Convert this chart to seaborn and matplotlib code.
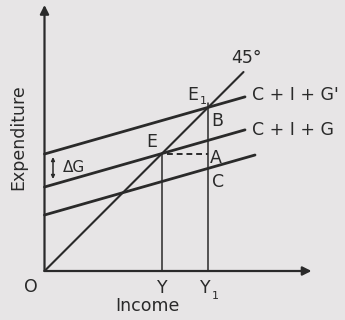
import matplotlib
matplotlib.use("Agg")
import matplotlib.pyplot as plt
import seaborn as sns
import numpy as np

# Keynesian cross: aggregate expenditure lines and the 45-degree line
schedule_names = ["C", "C + I + G", "C + I + G'"]
intercepts = [5.6, 8.4, 11.7]          # autonomous expenditure of each schedule
slope = 0.285                          # marginal propensity to spend
line_ends = [21.05, 20.05, 20.05]      # income where each schedule is drawn to
diag_end = 19.9                        # length of the 45-degree line
x_axis_len = 26.7
y_axis_len = 26.6

ink = "#2a2a2a"
paper = "#e7e5e6"

sns.set_theme(style="white")
plt.rcParams["font.family"] = ["DejaVu Sans"]

fig = plt.figure(figsize=(3.45, 3.2), dpi=100, facecolor=paper)
ax = fig.add_axes([0, 0, 1, 1])
ax.set_facecolor(paper)
ax.set_xlim(-4.45, 30.05)
ax.set_ylim(-4.9, 27.1)
ax.set_axis_off()

# axes with arrowheads
arrow = dict(arrowstyle="-|>", lw=1.6, color=ink, mutation_scale=13, shrinkA=0, shrinkB=0)
ax.annotate("", xy=(x_axis_len, 0), xytext=(0, 0), arrowprops=arrow)
ax.annotate("", xy=(0, y_axis_len), xytext=(0, 0), arrowprops=arrow)

# 45-degree line
sns.lineplot(x=[0, diag_end], y=[0, diag_end], color=ink, lw=1.5, ax=ax,
             estimator=None, sort=False)

# expenditure schedules
for a, xe in zip(intercepts, line_ends):
    sns.lineplot(x=[0, xe], y=[a, a + slope * xe], color=ink, lw=2.0, ax=ax,
                 estimator=None, sort=False)

# equilibrium incomes where each schedule meets the 45-degree line
y_eq = intercepts[1] / (1 - slope)
y_eq1 = intercepts[2] / (1 - slope)

sns.lineplot(x=[y_eq, y_eq], y=[0, y_eq], color=ink, lw=1.1, ax=ax, estimator=None)
sns.lineplot(x=[y_eq1, y_eq1], y=[0, y_eq1 + 0.4], color=ink, lw=1.1, ax=ax, estimator=None)
ax.plot([y_eq + 0.5, y_eq1], [y_eq, y_eq], color=ink, lw=1.4, ls=(0, (3, 2)))

txt = dict(color=ink, fontsize=12.5, ha="center", va="center")

def px(x, y):
    return ((x - 44.5) / 10, (271 - y) / 10)

ax.text(*px(246, 58), "45°", **txt)
ax.text(*px(193, 95), "E", **txt)
ax.text(*px(203, 101), "1", color=ink, fontsize=8, ha="center", va="center")
ax.text(*px(252, 95), "C + I + G'", color=ink, fontsize=12.5, ha="left", va="center")
ax.text(*px(252, 130), "C + I + G", color=ink, fontsize=12.5, ha="left", va="center")
ax.text(*px(217, 121), "B", **txt)
ax.text(*px(216, 158), "A", **txt)
ax.text(*px(218, 182), "C", **txt)
ax.text(*px(152, 142), "E", **txt)
ax.text(*px(31, 287), "O", **txt)
ax.text(*px(162, 288), "Y", **txt)
ax.text(*px(205, 288), "Y", **txt)
ax.text(*px(215, 296), "1", color=ink, fontsize=8, ha="center", va="center")
ax.text(*px(147, 306), "Income", **txt)
ax.text(*px(18, 137), "Expenditure", rotation=90, **txt)

# shift in government spending
ax.annotate("", xy=px(53, 157), xytext=px(53, 179),
            arrowprops=dict(arrowstyle="<|-|>", lw=1.1, color=ink, mutation_scale=5,
                            shrinkA=0, shrinkB=0))
ax.text(*px(74, 167), "ΔG", color=ink, fontsize=11, ha="center", va="center")

fig.savefig("out.png", dpi=100, facecolor=paper)
